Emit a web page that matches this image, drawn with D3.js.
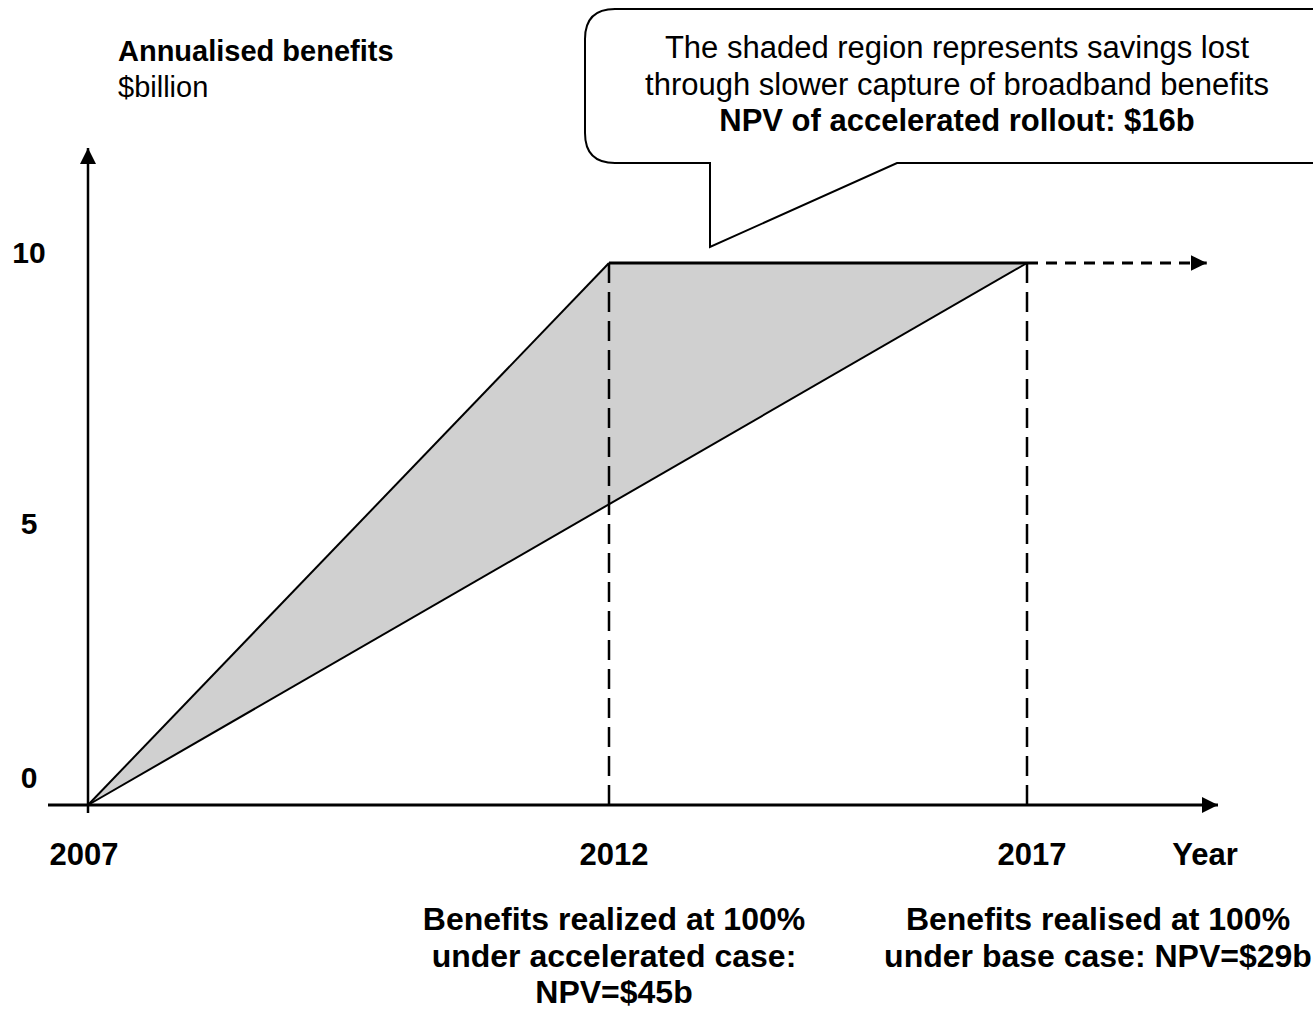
<!DOCTYPE html>
<html>
<head>
<meta charset="utf-8">
<script src="https://cdn.jsdelivr.net/npm/d3@7"></script>
<style>
  body { margin: 0; background: #fff; }
  svg text { font-family: "Liberation Sans", Arial, sans-serif; fill: #000; }
</style>
</head>
<body>
<div id="chart"></div>
<script>
// data
var years = [2007, 2012, 2017];
var yTicks = [0, 5, 10];
var accelerated = [{x: 2007, y: 0}, {x: 2012, y: 10}, {x: 2017, y: 10}];
var baseCase = [{x: 2007, y: 0}, {x: 2017, y: 10}];
var extension = [{x: 2017, y: 10}, {x: 2019.15, y: 10}];
var dropYears = [2012, 2017];
var calloutLines = [
  {text: "The shaded region represents savings lost", bold: false},
  {text: "through slower capture of broadband benefits", bold: false},
  {text: "NPV of accelerated rollout: $16b", bold: true}
];
var noteAccel = ["Benefits realized at 100%", "under accelerated case:", "NPV=$45b"];
var noteBase = ["Benefits realised at 100%", "under base case: NPV=$29b"];

var width = 1313, height = 1014;

var svg = d3.select("#chart").append("svg")
  .attr("width", width)
  .attr("height", height);

var defs = svg.append("defs");
defs.append("marker")
  .attr("id", "arrow")
  .attr("viewBox", "0 0 10 10")
  .attr("refX", 10).attr("refY", 5)
  .attr("markerWidth", 16).attr("markerHeight", 16)
  .attr("markerUnits", "userSpaceOnUse")
  .attr("orient", "auto")
  .append("path")
  .attr("d", "M0,0 L10,5 L0,10 Z")
  .attr("fill", "#000");

// scales (year spacing on the original is uneven, so piecewise)
var x = d3.scaleLinear().domain(years).range([88, 609, 1027]);
var y = d3.scaleLinear().domain([0, 10]).range([805, 263]);

var line = d3.line()
  .x(function (d) { return x(d.x); })
  .y(function (d) { return y(d.y); });

// shaded region: accelerated path out, base case path back
svg.append("path")
  .datum(accelerated.concat(baseCase.slice().reverse()))
  .attr("d", function (d) { return line(d) + "Z"; })
  .attr("fill", "#d0d0d0");

// vertical dashed drop lines
svg.selectAll("line.drop")
  .data(dropYears)
  .enter().append("line")
  .attr("class", "drop")
  .attr("x1", function (d) { return x(d); })
  .attr("x2", function (d) { return x(d); })
  .attr("y1", y(10))
  .attr("y2", y(0))
  .attr("stroke", "#000")
  .attr("stroke-width", 2.5)
  .attr("stroke-dasharray", "20,9");

// series lines
svg.append("path")
  .datum(baseCase)
  .attr("d", line)
  .attr("fill", "none")
  .attr("stroke", "#000")
  .attr("stroke-width", 2);

svg.append("path")
  .datum(accelerated.slice(0, 2))
  .attr("d", line)
  .attr("fill", "none")
  .attr("stroke", "#000")
  .attr("stroke-width", 2);

svg.append("path")
  .datum(accelerated.slice(1))
  .attr("d", line)
  .attr("fill", "none")
  .attr("stroke", "#000")
  .attr("stroke-width", 3);

svg.append("path")
  .datum(extension)
  .attr("d", line)
  .attr("fill", "none")
  .attr("stroke", "#000")
  .attr("stroke-width", 3)
  .attr("stroke-dasharray", "11,8")
  .attr("marker-end", "url(#arrow)");

// axes
svg.append("line")
  .attr("x1", 48).attr("x2", 1218)
  .attr("y1", y(0)).attr("y2", y(0))
  .attr("stroke", "#000").attr("stroke-width", 3)
  .attr("marker-end", "url(#arrow)");

svg.append("line")
  .attr("x1", x(2007)).attr("x2", x(2007))
  .attr("y1", y(0) + 8).attr("y2", 148)
  .attr("stroke", "#000").attr("stroke-width", 2.5)
  .attr("marker-end", "url(#arrow)");

// y tick labels
svg.selectAll("text.ytick")
  .data(yTicks)
  .enter().append("text")
  .attr("class", "ytick")
  .attr("x", 29)
  .attr("y", function (d) { return y(d) - (d === 0 ? 17 : 0); })
  .attr("text-anchor", "middle")
  .attr("font-size", 30)
  .attr("font-weight", "bold")
  .text(function (d) { return d; });

// x tick labels
svg.selectAll("text.xtick")
  .data(years)
  .enter().append("text")
  .attr("class", "xtick")
  .attr("x", function (d, i) { return x(d) + [-4, 5, 5][i]; })
  .attr("y", 865)
  .attr("text-anchor", "middle")
  .attr("font-size", 31)
  .attr("font-weight", "bold")
  .text(function (d) { return d; });

svg.append("text")
  .attr("x", 1205).attr("y", 865)
  .attr("text-anchor", "middle")
  .attr("font-size", 31)
  .attr("font-weight", "bold")
  .text("Year");

// axis title
svg.append("text")
  .attr("x", 118).attr("y", 61)
  .attr("font-size", 29)
  .attr("font-weight", "bold")
  .text("Annualised benefits");

svg.append("text")
  .attr("x", 118).attr("y", 97)
  .attr("font-size", 29)
  .text("$billion");

// callout bubble
var bx = 585, by = 9, bw = 760, bh = 154, r = 30;
var tail = {left: 710, tip: 247, right: 897};
svg.append("path")
  .attr("d",
    "M" + (bx + r) + "," + by +
    " L" + (bx + bw - r) + "," + by +
    " Q" + (bx + bw) + "," + by + " " + (bx + bw) + "," + (by + r) +
    " L" + (bx + bw) + "," + (by + bh - r) +
    " Q" + (bx + bw) + "," + (by + bh) + " " + (bx + bw - r) + "," + (by + bh) +
    " L" + tail.right + "," + (by + bh) +
    " L" + tail.left + "," + tail.tip +
    " L" + tail.left + "," + (by + bh) +
    " L" + (bx + r) + "," + (by + bh) +
    " Q" + bx + "," + (by + bh) + " " + bx + "," + (by + bh - r) +
    " L" + bx + "," + (by + r) +
    " Q" + bx + "," + by + " " + (bx + r) + "," + by + " Z")
  .attr("fill", "#fff")
  .attr("stroke", "#000")
  .attr("stroke-width", 2);

svg.append("g").selectAll("text")
  .data(calloutLines)
  .enter().append("text")
  .attr("x", 957)
  .attr("y", function (d, i) { return 58 + i * 36.5; })
  .attr("text-anchor", "middle")
  .attr("font-size", 31)
  .attr("font-weight", function (d) { return d.bold ? "bold" : "normal"; })
  .text(function (d) { return d.text; });

// bottom notes
svg.append("g").selectAll("text")
  .data(noteAccel)
  .enter().append("text")
  .attr("x", 614)
  .attr("y", function (d, i) { return 930 + i * 36.5; })
  .attr("text-anchor", "middle")
  .attr("font-size", 32)
  .attr("font-weight", "bold")
  .text(function (d) { return d; });

svg.append("g").selectAll("text")
  .data(noteBase)
  .enter().append("text")
  .attr("x", 1098)
  .attr("y", function (d, i) { return 930 + i * 36.5; })
  .attr("text-anchor", "middle")
  .attr("font-size", 32)
  .attr("font-weight", "bold")
  .text(function (d) { return d; });
</script>
</body>
</html>
